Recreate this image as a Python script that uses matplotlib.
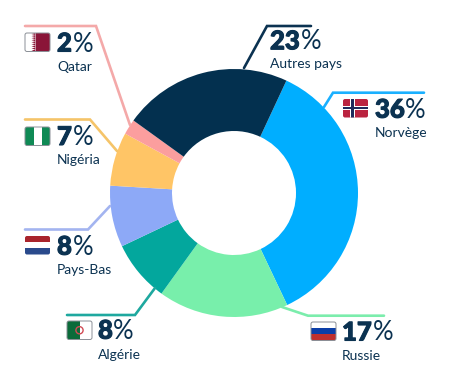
import matplotlib
matplotlib.use("Agg")
import matplotlib.pyplot as plt
import matplotlib.patheffects as pe
from matplotlib.patches import FancyBboxPatch, Rectangle, Polygon, Circle

# ---- data ----
countries = ["Norvège", "Russie", "Algérie", "Pays-Bas", "Nigéria", "Qatar", "Autres pays"]
labels_pct = [36, 17, 8, 8, 7, 2, 23]
wedge_shares = [36, 17, 8, 8, 7, 2, 22]

# ---- styles and layout (pixels of the 450x386 picture) ----
colors = ["#00AEFF", "#78EFAB", "#03A79D", "#8DA9F7", "#FFC566", "#FB9E9E", "#03304F"]
line_colors = ["#1AB0FF", "#7BEDAC", "#1EA89F", "#A3B4F0", "#F5C469", "#F4A9A9", "#0B3251"]
INK = "#0B3251"
W, H = 450, 386
CX, CY, R = 234, 193, 124
leaders = [
    [(424, 92.7), (333, 92.7), (324, 107)],
    [(384, 315.7), (308, 315.7), (282, 307)],
    [(67, 315), (135, 315), (155, 288)],
    [(25, 229.5), (88, 229.5), (110, 206)],
    [(25, 119.5), (90, 119.5), (117, 151)],
    [(25, 26), (96, 26), (130, 125)],
    [(311, 26), (267, 26), (244, 68)],
]
flag_boxes = [(343, 99), (311, 322), (67, 321), (25, 236), (25, 127), (25, 33), None]
num_pos = [(375, 117.7), (342, 340.5), (98, 338.7), (57, 254.7), (57, 145), (57, 51.5), (270, 49.3)]
name_pos = [(375, 137), (342, 360), (98, 359), (57, 274), (57, 164), (57, 71), (270, 68)]
FW, FH = 25, 18.5

plt.rcParams["font.family"] = ["Lato", "DejaVu Sans"]
fig = plt.figure(figsize=(W / 100, H / 100), dpi=100)
pie_ax = fig.add_axes([0, 0, 1, 1])
pie_ax.pie(wedge_shares, colors=colors, startangle=65, counterclock=False, radius=1,
           wedgeprops=dict(width=0.5, linewidth=0))
pie_ax.set_xlim(-CX / R, (W - CX) / R)
pie_ax.set_ylim((CY - H) / R, CY / R)
pie_ax.axis("off")

ax = fig.add_axes([0, 0, 1, 1], zorder=3)
ax.set_xlim(0, W)
ax.set_ylim(H, 0)
ax.axis("off")
ax.patch.set_alpha(0)

for pts, c in zip(leaders, line_colors):
    xs, ys = zip(*pts)
    ax.plot(xs, ys, color=c, lw=1.9, solid_capstyle="round", solid_joinstyle="miter", zorder=1)


def flag(name, x, y):
    clip = FancyBboxPatch((x, y), FW, FH, boxstyle="round,pad=0,rounding_size=2",
                          fc="white", ec="none", zorder=2)
    ax.add_patch(clip)
    shapes = []
    def rect(x0, y0, w, h, c):
        shapes.append(Rectangle((x + x0 * FW, y + y0 * FH), w * FW, h * FH, fc=c, ec="none", zorder=3))
    if name == "Norvège":
        rect(0, 0, 1, 1, "#BA2340")
        rect(0.28, 0, 0.2, 1, "white")
        rect(0, 0.38, 1, 0.24, "white")
        rect(0.33, 0, 0.1, 1, "#1F2A5C")
        rect(0, 0.44, 1, 0.12, "#1F2A5C")
    elif name == "Russie":
        rect(0, 0, 1, 0.36, "white")
        rect(0, 0.33, 1, 0.36, "#0C3FA8")
        rect(0, 0.66, 1, 0.34, "#C0302E")
    elif name == "Pays-Bas":
        rect(0, 0, 1, 0.34, "#A9242C")
        rect(0, 0.33, 1, 0.35, "white")
        rect(0, 0.67, 1, 0.33, "#2A4A8C")
    elif name == "Nigéria":
        rect(0, 0, 0.34, 1, "#0F8A55")
        rect(0.66, 0, 0.34, 1, "#0F8A55")
    elif name == "Algérie":
        rect(0, 0, 0.5, 1, "#0B6B3A")
        shapes.append(Circle((x + 0.5 * FW, y + 0.5 * FH), 3.6, fc="none", ec="#D14B55", lw=1.0, zorder=4))
    elif name == "Qatar":
        rect(0.42, 0, 0.58, 1, "#8A1538")
        teeth = []
        for i in range(9):
            teeth += [(x + 0.42 * FW, y + i / 9 * FH), (x + 0.26 * FW, y + (i + 0.5) / 9 * FH)]
        teeth.append((x + 0.42 * FW, y + FH))
        shapes.append(Polygon(teeth, fc="#8A1538", ec="none", zorder=3))
    for s in shapes:
        ax.add_patch(s)
        s.set_clip_path(clip)
    if name in ("Qatar", "Algérie", "Russie", "Nigéria"):
        ax.add_patch(FancyBboxPatch((x, y), FW, FH, boxstyle="round,pad=0,rounding_size=2",
                                    fc="none", ec="#8A8F96", lw=0.7, zorder=5))


renderer = fig.canvas.get_renderer()
for name, pct, box, np_, tp in zip(countries, labels_pct, flag_boxes, num_pos, name_pos):
    if box is not None:
        flag(name, *box)
    t = ax.text(np_[0], np_[1], str(pct), fontsize=18.5, fontweight="black", color=INK,
                ha="left", va="baseline", zorder=6,
                path_effects=[pe.withStroke(linewidth=0.8, foreground=INK)])
    bb = t.get_window_extent(renderer)
    xpct = ax.transData.inverted().transform((bb.x1, bb.y0))[0] + 0.5
    ax.text(xpct, np_[1], "%", fontsize=18.5, fontweight="normal", color=INK,
            ha="left", va="baseline", zorder=6)
    ax.text(tp[0], tp[1], name, fontsize=10, color=INK, ha="left", va="baseline", zorder=6)

fig.savefig("out.png", dpi=100)
